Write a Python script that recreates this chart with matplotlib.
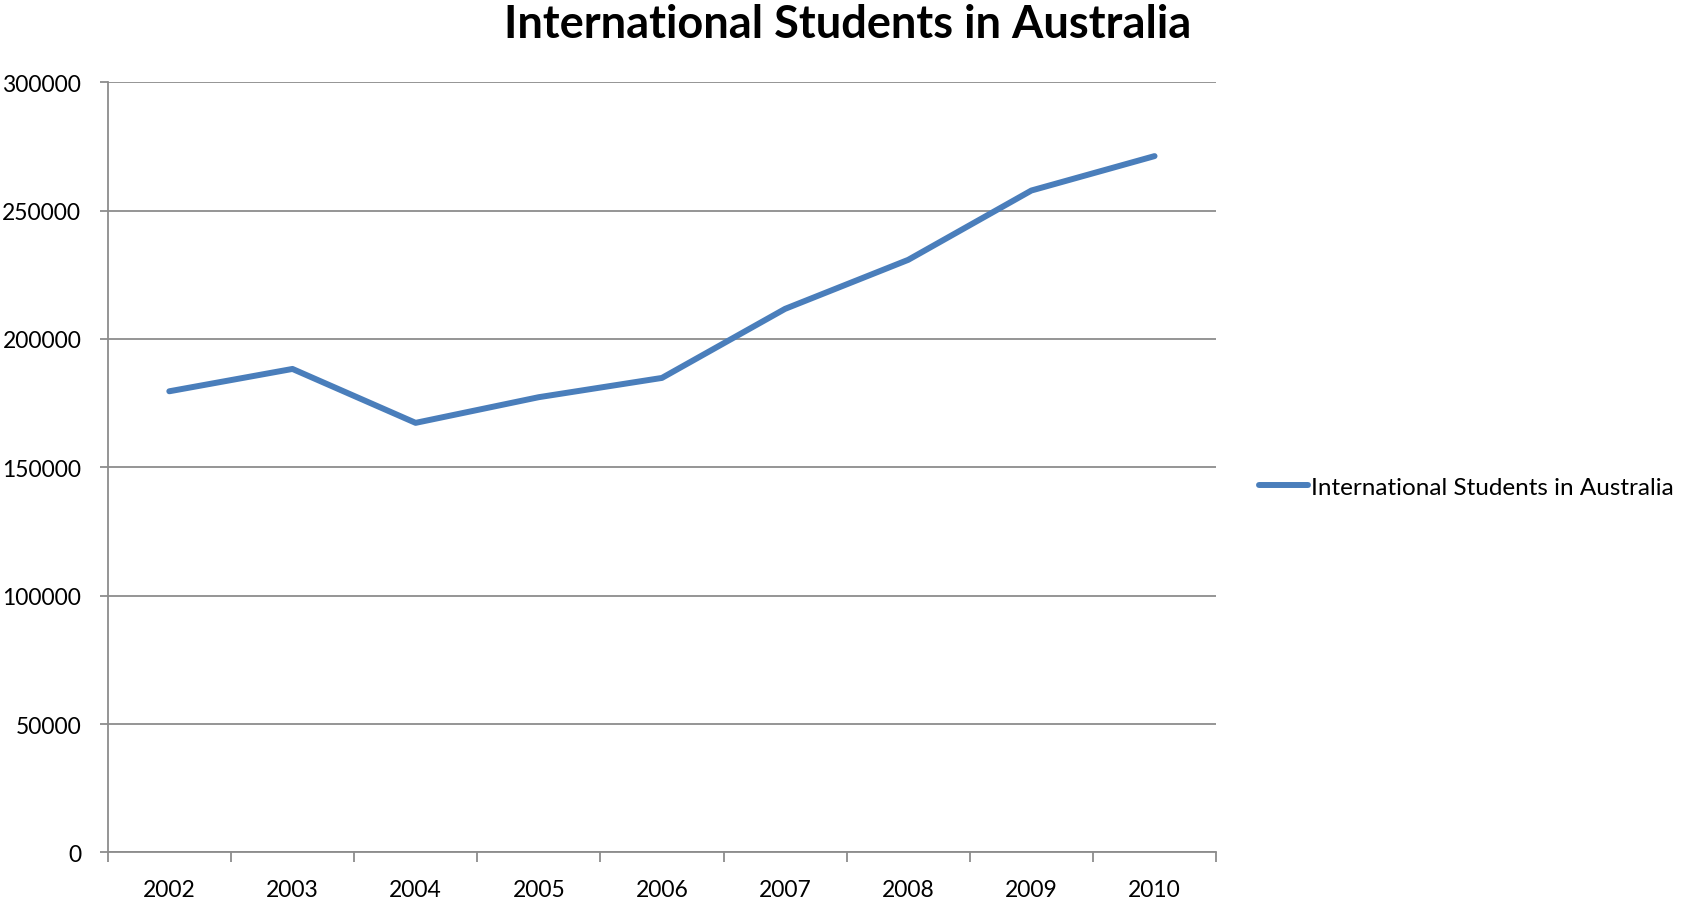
import matplotlib
matplotlib.use("Agg")
import matplotlib.pyplot as plt

plt.rcParams['font.family'] = ['Lato', 'DejaVu Sans']

years = ['2002', '2003', '2004', '2005', '2006', '2007', '2008', '2009', '2010']
students = [179600, 188300, 167300, 177300, 184800, 211700, 230800, 257800, 271200]
yticks = [0, 50000, 100000, 150000, 200000, 250000, 300000]

blue = '#4a7ebb'
grid_col = '#8c8c8c'

fig = plt.figure(figsize=(16.86, 9.04), dpi=100)
ax = fig.add_axes([0.0639, 0.056, 0.6574, 0.852])

pos = list(range(len(years)))
ax.plot(pos, students, color=blue, lw=4.3, solid_capstyle='round',
        solid_joinstyle='round', label='International Students in Australia')

ax.set_xlim(-0.5, len(years) - 0.5)
ax.set_ylim(0, 300000)

# category axis: tick marks between categories, labels in the middle
ax.set_xticks([p - 0.5 for p in range(len(years) + 1)])
ax.set_xticklabels([])
ax.set_xticks(pos, minor=True)
ax.set_xticklabels(years, minor=True)
ax.tick_params(axis='x', which='major', length=7, width=1.3, color=grid_col)
ax.tick_params(axis='x', which='minor', length=0, pad=19, labelsize=16.5)

ax.set_yticks(yticks)
ax.set_yticklabels([str(v) for v in yticks])
ax.tick_params(axis='y', length=6, width=1.3, color=grid_col, pad=13, labelsize=16.5)

ax.yaxis.grid(True, color=grid_col, lw=1.3)
ax.set_axisbelow(True)
for s in ['top', 'right']:
    ax.spines[s].set_visible(False)
for s in ['left', 'bottom']:
    ax.spines[s].set_color(grid_col)
    ax.spines[s].set_linewidth(1.3)

fig.text(0.503, 0.958, 'International Students in Australia', ha='center', va='baseline',
         fontsize=32.5, fontweight='bold')

ax.legend(loc='center left', bbox_to_anchor=(1.03, 0.474), frameon=False, fontsize=17.5,
          handlelength=2.0, handletextpad=0.15, borderaxespad=0)

fig.savefig('out.png', dpi=100)
